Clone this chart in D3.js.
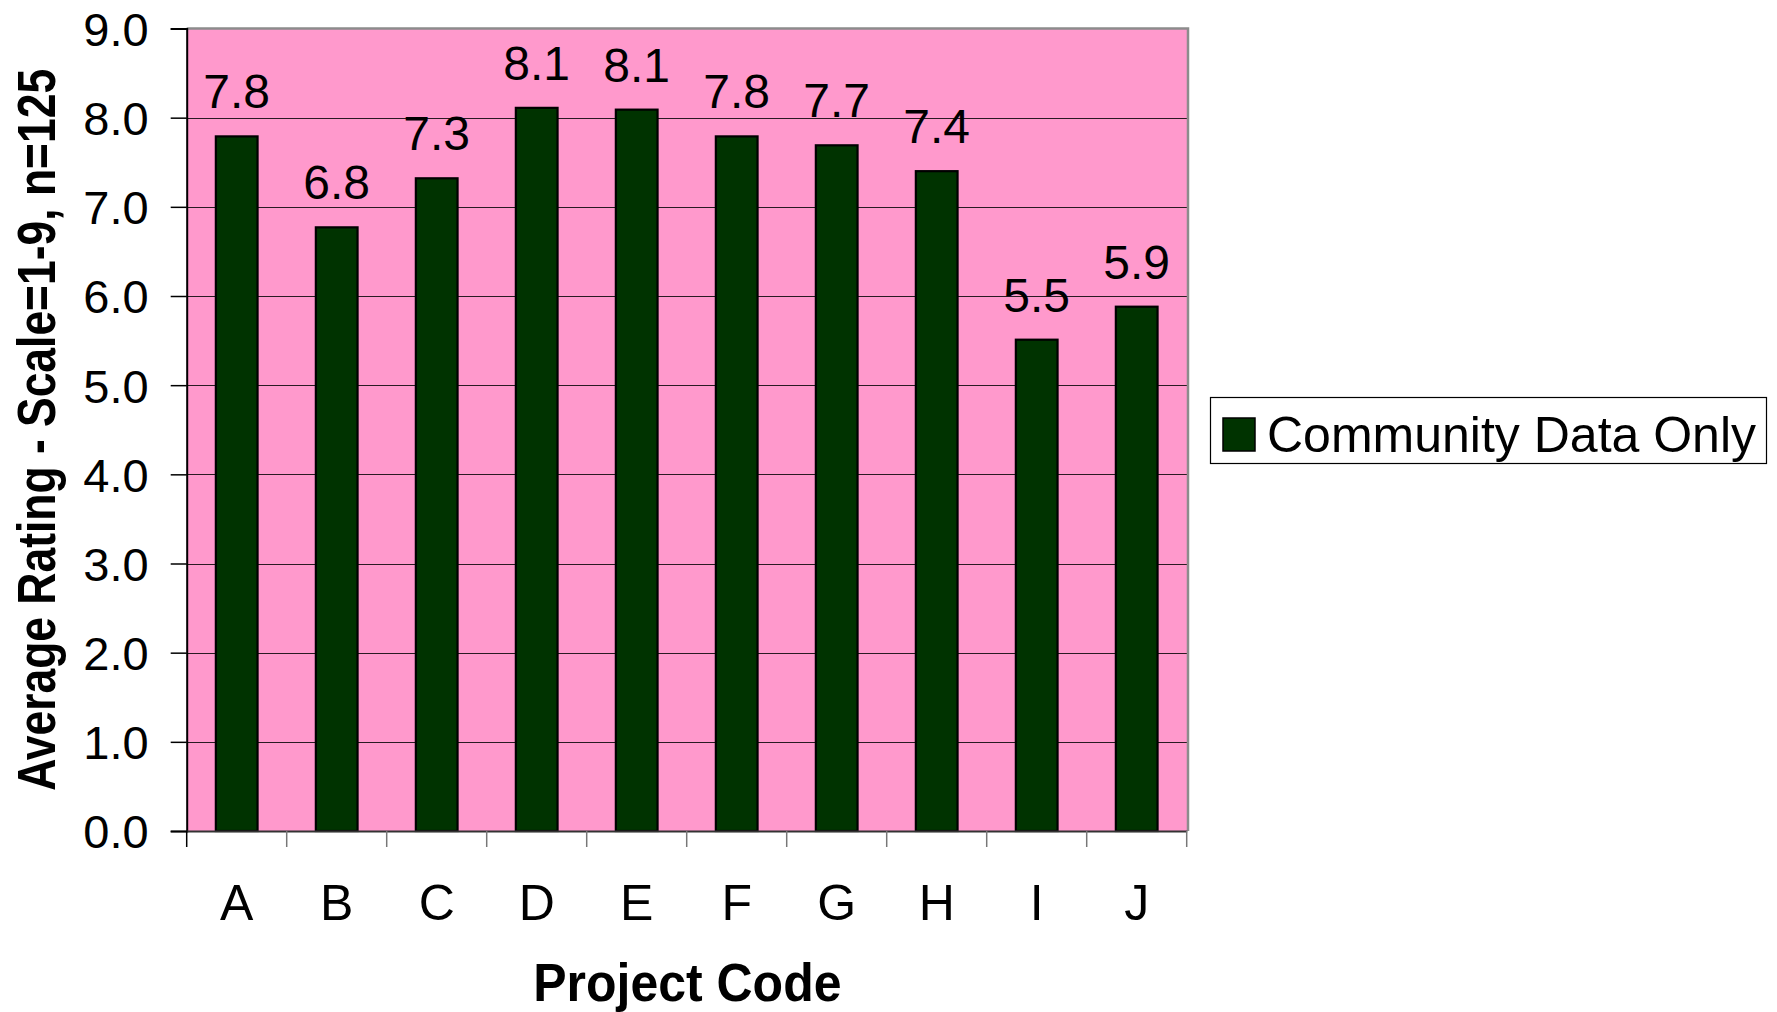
<!DOCTYPE html>
<html><head><meta charset="utf-8">
<script src="https://cdn.jsdelivr.net/npm/d3@7"></script>
<style>html,body{margin:0;padding:0;background:#fff;}svg{display:block;}</style>
</head><body>
<script>
const categories = ["A","B","C","D","E","F","G","H","I","J"];
const values = [7.79, 6.77, 7.32, 8.11, 8.09, 7.79, 7.69, 7.40, 5.51, 5.88];
const valueLabels = ["7.8","6.8","7.3","8.1","8.1","7.8","7.7","7.4","5.5","5.9"];
const yTicks = [0,1,2,3,4,5,6,7,8,9];
const seriesName = "Community Data Only";
const xTitle = "Project Code";
const yTitle = "Average Rating - Scale=1-9, n=125";

const W = 1777, H = 1012;
const m = {left: 186.7, right: 1188, top: 28.5, bottom: 831};
const svg = d3.select("body").append("svg").attr("width", W).attr("height", H);
const font = "Arial, 'Liberation Sans', Helvetica, sans-serif";

const x = d3.scaleBand().domain(categories).range([m.left, m.left + 1000]).paddingInner(0.583).paddingOuter(0.2915);
const xb = d3.scaleBand().domain(categories).range([m.left, m.left + 1000]);
const y = d3.scaleLinear().domain([0, 9]).range([m.bottom, m.top]);

// plot background
svg.append("rect").attr("x", m.left).attr("y", m.top).attr("width", m.right - m.left).attr("height", m.bottom - m.top).attr("fill", "#FF99CC");

// gridlines
svg.append("g").selectAll("line").data(yTicks.filter(d => d > 0 && d < 9)).join("line")
  .attr("x1", m.left).attr("x2", m.right).attr("y1", d => Math.round(y(d)) + 0.5).attr("y2", d => Math.round(y(d)) + 0.5)
  .attr("stroke", "#2a1a22").attr("stroke-width", 1);

// border top/right gray
svg.append("path").attr("d", `M${m.left},${m.top} H${m.right} V${m.bottom}`).attr("fill", "none").attr("stroke", "#8c8c8c").attr("stroke-width", 2.5);

// bars
svg.append("g").selectAll("rect").data(values).join("rect")
  .attr("x", (d, i) => x(categories[i]))
  .attr("width", x.bandwidth())
  .attr("y", d => y(d))
  .attr("height", d => y(0) - y(d))
  .attr("fill", "#003300").attr("stroke", "#000").attr("stroke-width", 2.2);

// value labels
svg.append("g").selectAll("text").data(values).join("text")
  .attr("x", (d, i) => x(categories[i]) + x.bandwidth() / 2)
  .attr("y", d => y(d) - 28)
  .attr("text-anchor", "middle").attr("font-family", font).attr("font-size", 48).attr("fill", "#000")
  .text((d, i) => valueLabels[i]);

// y axis
const yAxis = d3.axisLeft(y).tickValues(yTicks).tickFormat(d3.format(".1f")).tickSizeOuter(0).tickSize(16).tickPadding(22);
const gy = svg.append("g").attr("transform", `translate(${m.left},0)`).call(yAxis);
gy.select(".domain").attr("stroke", "#000").attr("stroke-width", 2);
gy.selectAll(".tick line").attr("stroke", "#000").attr("stroke-width", 1.5);
gy.selectAll(".tick text").attr("font-family", font).attr("font-size", 47).attr("fill", "#000").attr("dy", "0.36em");

// x axis
const xAxis = d3.axisBottom(xb).tickSize(0).tickPadding(0).tickSizeOuter(0);
const gx = svg.append("g").attr("transform", `translate(0,${m.bottom})`).call(xAxis);
gx.select(".domain").attr("stroke", "#333").attr("stroke-width", 2);
gx.selectAll(".tick text").attr("font-family", font).attr("font-size", 50).attr("fill", "#000").attr("dy", 0).attr("y", 89);
// category separator ticks
const sepPositions = categories.map(c => xb(c)).concat([xb(categories[categories.length - 1]) + xb.bandwidth()]);
svg.append("g").selectAll("line").data(sepPositions).join("line")
  .attr("x1", d => d).attr("x2", d => d).attr("y1", m.bottom).attr("y2", m.bottom + 16)
  .attr("stroke", (d, i) => i === 0 ? "#000" : "#777").attr("stroke-width", 1.5);

// axis titles
svg.append("text").attr("x", (m.left + m.right) / 2).attr("y", 1001)
  .attr("text-anchor", "middle").attr("font-family", font).attr("font-weight", "bold").attr("font-size", 50).attr("fill", "#000")
  .attr("transform", `translate(0,${1001}) scale(1,1.08) translate(0,${-1001})`)
  .text(xTitle);
const yt = svg.append("text")
  .attr("text-anchor", "middle").attr("font-family", font).attr("font-weight", "bold").attr("font-size", 53).attr("fill", "#000")
  .text(yTitle);
const natural = yt.node().getComputedTextLength() || 860;
const sx = 722 / natural;
yt.attr("transform", `translate(55,${(m.top + m.bottom) / 2}) rotate(-90) scale(${sx},1)`);

// legend
const lg = svg.append("g");
lg.append("rect").attr("x", 1210.5).attr("y", 397.5).attr("width", 556).attr("height", 66).attr("fill", "#fff").attr("stroke", "#000").attr("stroke-width", 1.2);
lg.append("rect").attr("x", 1223).attr("y", 418).attr("width", 32).attr("height", 33).attr("fill", "#003300").attr("stroke", "#000").attr("stroke-width", 1.5);
lg.append("text").attr("x", 1267).attr("y", 452).attr("font-family", font).attr("font-size", 50).attr("fill", "#000").text(seriesName);
</script>
</body></html>
